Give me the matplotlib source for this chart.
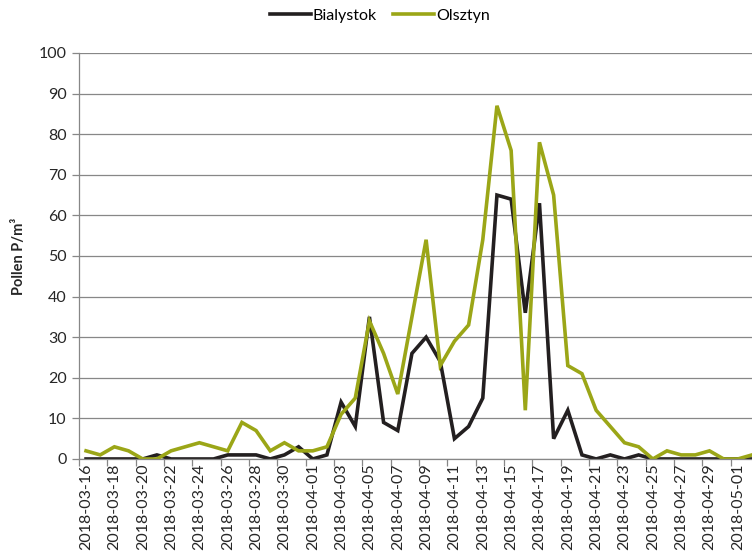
import matplotlib
matplotlib.use("Agg")
import matplotlib.pyplot as plt
import pandas as pd

plt.rcParams["font.family"] = ["Lato", "DejaVu Sans"]

dates = pd.date_range("2018-03-16", "2018-05-02", freq="D")
bialystok = [0, 0, 0, 0, 0, 1, 0, 0, 0, 0, 1, 1, 1, 0, 1, 3, 0, 1, 14, 8,
             35, 9, 7, 26, 30, 24, 5, 8, 15, 65, 64, 36, 63, 5, 12, 1, 0, 1, 0, 1,
             0, 0, 0, 0, 0, 0, 0, 0]
olsztyn = [2, 1, 3, 2, 0, 0, 2, 3, 4, 3, 2, 9, 7, 2, 4, 2, 2, 3, 11, 15,
           34, 26, 16, 35, 54, 23, 29, 33, 54, 87, 76, 12, 78, 65, 23, 21, 12, 8, 4, 3,
           0, 2, 1, 1, 2, 0, 0, 1]
labels = [d.strftime("%Y-%m-%d") for d in dates]

GRID = "#878787"
BLACK = "#231F20"
GREEN = "#9BA617"

fig = plt.figure(figsize=(7.52, 5.60), dpi=100)
ax = fig.add_axes([0.105, 0.1804, 0.895, 0.725])

x = list(range(len(dates)))
ax.plot(x, bialystok, color=BLACK, lw=2.6, label="Bialystok", solid_joinstyle="miter")
ax.plot(x, olsztyn, color=GREEN, lw=2.6, label="Olsztyn", solid_joinstyle="miter")

ax.set_xlim(-0.5, 47.0)
ax.set_ylim(0, 100)
ax.set_yticks(range(0, 101, 10))
ax.yaxis.grid(True, color=GRID, lw=0.9)
ax.set_axisbelow(True)

ax.set_xticks(x[::2])
ax.set_xticklabels(labels[::2], rotation=90, va="top", ha="center")
ax.set_xticks([i - 0.5 for i in x[::2]], minor=True)
ax.tick_params(axis="x", which="major", length=0, pad=3, labelsize=11.5, colors="#262626")
ax.tick_params(axis="x", which="minor", length=5, width=0.9, color=GRID, direction="out")
ax.tick_params(axis="y", length=5, width=0.9, color=GRID, labelsize=11.5,
               labelcolor="#262626", pad=4)

for side in ["top", "right"]:
    ax.spines[side].set_visible(False)
for side in ["left", "bottom"]:
    ax.spines[side].set_color(GRID)
    ax.spines[side].set_linewidth(0.9)

ax.set_ylabel("Pollen P/m³", fontsize=10.5, fontweight="bold", color="#262626", labelpad=9)

fig.legend(loc="center", bbox_to_anchor=(0.505, 0.972), ncol=2, frameon=False,
           fontsize=11.5, handlelength=2.6, handletextpad=0.1, columnspacing=1.0)

fig.savefig("out.png", dpi=100)
